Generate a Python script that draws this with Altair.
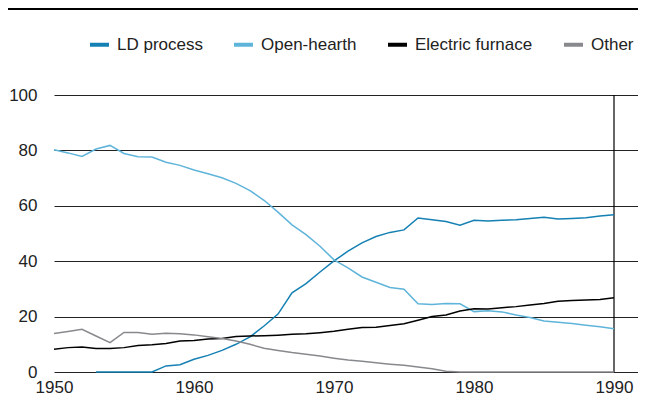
import altair as alt
import pandas as pd

years = list(range(1950, 1991))

ld_process = [None, None, None, 0, 0, 0, 0, 0, 2.2, 2.6,
              4.6, 6.0, 7.8, 10.0, 12.7, 16.6, 20.9, 28.6, 31.9, 36.1,
              40.1, 43.6, 46.6, 48.9, 50.4, 51.3, 55.6, 55.0, 54.3, 53.0,
              54.8, 54.5, 54.8, 55.0, 55.4, 55.9, 55.2, 55.4, 55.7, 56.3,
              56.8]
open_hearth = [80.2, 79.1, 77.8, 80.5, 81.8, 78.9, 77.7, 77.6, 75.7, 74.6,
               72.9, 71.6, 70.1, 68.1, 65.5, 62.0, 57.7, 53.1, 49.6, 45.4,
               40.5, 37.6, 34.3, 32.4, 30.5, 29.9, 24.6, 24.4, 24.7, 24.6,
               21.8, 22.1, 21.7, 20.6, 19.7, 18.4, 18.0, 17.5, 16.9, 16.3,
               15.6]
electric = [8.2, 8.8, 9.0, 8.5, 8.5, 8.8, 9.6, 9.8, 10.3, 11.2,
            11.4, 11.9, 12.1, 12.8, 13.0, 13.1, 13.3, 13.6, 13.8, 14.2,
            14.7, 15.4, 16.1, 16.2, 16.8, 17.4, 18.7, 20.0, 20.6, 22.0,
            22.8, 22.7, 23.2, 23.6, 24.2, 24.7, 25.5, 25.8, 26.0, 26.2,
            26.8]
other = [13.9, 14.6, 15.4, 13.0, 10.6, 14.3, 14.3, 13.6, 14.0, 13.8,
         13.4, 12.7, 12.1, 11.2, 10.0, 8.6, 7.8, 7.0, 6.4, 5.8,
         5.0, 4.3, 3.9, 3.3, 2.8, 2.4, 1.8, 1.2, 0.3, 0,
         0, 0, 0, 0, 0, 0, 0, 0, 0, 0,
         0]

series_names = ["LD process", "Open-hearth", "Electric furnace", "Other"]
series_colors = ["#1580b3", "#5fb4da", "#000000", "#88898d"]
x_ticks = [1950, 1960, 1970, 1980, 1990]
y_ticks = [0, 20, 40, 60, 80, 100]
end_year = [1990]

rows = []
for name, vals in zip(series_names, [ld_process, open_hearth, electric, other]):
    for yr, v in zip(years, vals):
        if v is not None:
            rows.append({"year": yr, "share": v, "process": name})
df = pd.DataFrame(rows)
end_df = pd.DataFrame({"year": end_year})

FONT = "Liberation Sans"
W = 584

x_scale = alt.Scale(domain=[1950, 1950 + W / 14.0], nice=False, zero=False)
y_scale = alt.Scale(domain=[0, 100], nice=False)

lines = alt.Chart(df).mark_line(strokeWidth=1.5).encode(
    x=alt.X("year:Q", scale=x_scale, title=None,
            axis=alt.Axis(values=x_ticks, format="d", grid=False, domain=False,
                          ticks=False, labelPadding=7, labelFontSize=17,
                          labelFlush=False,
                          labelFont=FONT, labelColor="#222")),
    y=alt.Y("share:Q", scale=y_scale, title=None,
            axis=alt.Axis(values=y_ticks, grid=True, gridColor="#222",
                          gridWidth=1, domain=False, ticks=False,
                          labelPadding=17, labelFontSize=17, labelFont=FONT,
                          labelColor="#222")),
    color=alt.Color("process:N",
                    scale=alt.Scale(domain=series_names, range=series_colors),
                    legend=alt.Legend(orient="none", legendX=34, legendY=-62,
                                      direction="horizontal", title=None,
                                      symbolType="stroke", symbolStrokeWidth=4,
                                      symbolSize=361, labelFontSize=17,
                                      labelFont=FONT, labelColor="#222",
                                      columnPadding=23, labelOffset=6)),
    order=alt.Order("year:Q"),
)

end_rule = alt.Chart(end_df).mark_rule(color="#000", strokeWidth=1.2).encode(
    x=alt.X("year:Q", scale=x_scale)
)

top_rule = alt.Chart(end_df).mark_rule(color="#000", strokeWidth=2).encode(
    x=alt.value(-46), x2=alt.value(W), y=alt.value(-86)
)

chart = alt.layer(end_rule, lines, top_rule).properties(
    width=W, height=277, autosize="none",
    padding={"left": 46, "top": 87, "right": 0, "bottom": 25},
).configure_view(stroke=None)

chart.save("out.html", embed_options={"renderer": "svg", "actions": False})
